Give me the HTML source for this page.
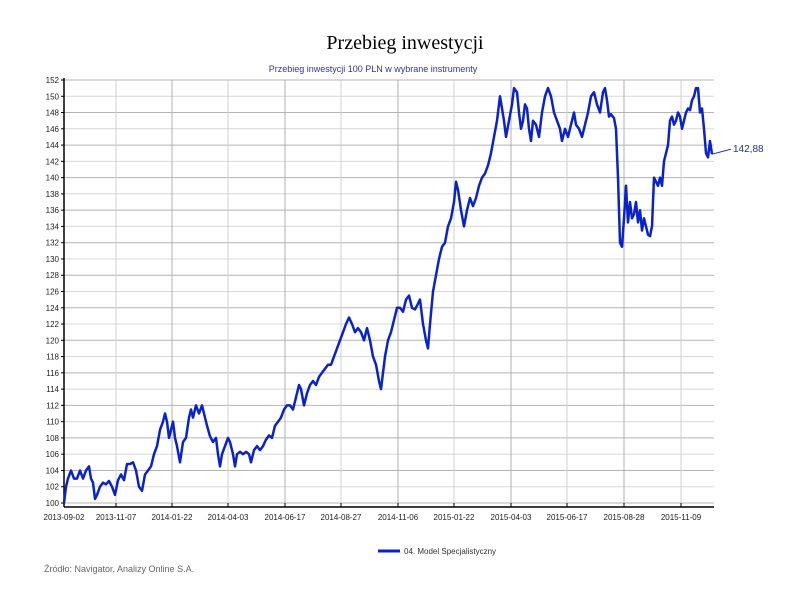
<!DOCTYPE html>
<html><head><meta charset="utf-8"><style>
body{margin:0;background:#fff;width:794px;height:604px;overflow:hidden;font-family:"Liberation Sans",sans-serif}
</style></head><body>
<svg width="794" height="604" id="c">
<text x="405" y="49" text-anchor="middle" font-family="Liberation Serif,serif" font-size="20" fill="#000">Przebieg inwestycji</text>
<text x="373" y="72" text-anchor="middle" font-size="9" fill="#3333aa">Przebieg inwestycji 100 PLN w wybrane instrumenty</text>
<g id="grid"></g><g id="axes"></g><g id="series"></g>
<line x1="378" y1="551" x2="400" y2="551" stroke="#0a22cc" stroke-width="3"/>
<text x="404" y="554" font-size="8" fill="#333">04. Model Specjalistyczny</text>
<text x="44" y="572" font-size="9" fill="#666">Źródło: Navigator, Analizy Online S.A.</text>
</svg>
<script>
const obsIndex=[0,2,4,7,10,13,16,19,22,25,27,29,31,33,36,39,42,45,48,51,54,57,60,63,66,69,72,75,78,81,84,87,90,93,96,99,101,103,105,107,109,111,113,116,119,122,125,127,129,132,135,138,140,143,146,149,152,154,156,158,161,164,166,169,171,173,176,179,182,185,187,190,193,196,199,202,205,208,211,214,217,220,223,226,229,232,235,237,240,243,246,249,252,255,258,261,264,267,270,273,276,279,282,285,288,291,294,297,300,303,306,309,312,315,317,319,321,324,327,330,333,336,339,342,345,348,351,354,356,359,362,364,366,369,372,375,378,381,384,387,390,392,394,397,400,403,406,409,412,415,418,421,424,427,430,433,436,438,440,442,445,448,450,453,455,457,459,461,463,465,467,469,472,475,478,481,484,487,490,493,496,498,501,504,507,510,512,515,518,521,524,527,530,533,536,539,541,543,545,547,550,552,554,556,558,560,562,564,566,568,570,572,574,576,578,580,582,584,586,588,590,592,594,596,598,600,602,604,606,608,610,612,614,616,618,620,622,624,626,628,630,632,634,636,638,640,642,644,646,648];
const values=[100,102,103,104,103,103,104,103,104,104.5,103,102.5,100.5,101,102,102.5,102.3,102.7,102,101,102.8,103.5,102.8,104.8,104.8,105,104,102,101.5,103.5,104,104.5,106,107,109,110,111,110,108,109,110,108,107,105,107.5,108,110.5,111.5,110.5,112,111,112,111,109.5,108.2,107.5,108,106,104.5,106,107,108,107.5,106,104.5,106,106.3,106,106.3,106,105,106.5,107,106.5,107,107.8,108.3,108,109.5,110,110.5,111.5,112,112,111.5,113,114.5,114,112,113.5,114.5,115,114.5,115.5,116,116.5,117,117,118,119,120,121,122,122.8,122,121,121.5,121,120,121.5,120,118,117,115,114,116,118,120,121,122.5,124,124,123.5,125,125.5,124,123.8,124.5,125,122,120,119,122,126,128,130,131.5,132,134,135,137,139.5,138.5,136,134,136,137.5,136.5,137.5,139,140,140.5,141.5,143,145,147,150,148.5,147,145,147,149,151,150.5,148,146,147,149,148.5,146,144.5,147,146.5,145,148,150,151,150,148,147,146,144.5,146,145,146.5,148,146.5,146,145,146.5,148,150,150.5,149,148,150.5,151,149.5,147.5,147.8,147.3,146,140,132,131.5,135,139,134.5,137,135,135.5,137,134.5,136,133.5,135,134,133,132.8,134,140,139.5,139,140,139,142,143,144,147,147.5,146.5,147,148,147.5,146,147,148,148.5,148.3,149.5,150,151,151,148,148.5,146,143,142.5,144.5,142.88];
const yTicks=[100,102,104,106,108,110,112,114,116,118,120,122,124,126,128,130,132,134,136,138,140,142,144,146,148,150,152];
const xTickIdx=[0,52,108,164,221,277,334,390,447,503,560,617];
const xTickLabels=["2013-09-02","2013-11-07","2014-01-22","2014-04-03","2014-06-17","2014-08-27","2014-11-06","2015-01-22","2015-04-03","2015-06-17","2015-08-28","2015-11-09"];
const lastLabel="142,88";
const L=64,R=714,T=80,B=503,NS="http://www.w3.org/2000/svg";
const xs=i=>L+(i/650)*(R-L), ys=v=>B-(v-100)/52*(B-T);
function mk(t,a,p){const e=document.createElementNS(NS,t);for(const k in a)e.setAttribute(k,a[k]);p.appendChild(e);return e;}
const g=document.getElementById('grid'),ax=document.getElementById('axes'),s=document.getElementById('series');
yTicks.forEach((v,i)=>{const y=ys(v);
 const l=mk('line',{x1:L,x2:R,y1:y,y2:y,stroke:i%2?'#d8d8d8':'#b4b4b4','stroke-width':1},g);
 
 const t=mk('text',{x:L-5,y:y+3,'text-anchor':'end','font-size':8,fill:'#222'},ax);t.textContent=v;
 
 mk('line',{x1:L-3,x2:L,y1:y,y2:y,stroke:'#000'},ax);
});
xTickIdx.forEach((d,i)=>{const x=xs(d);
 if(i>0){const l=mk('line',{x1:x,x2:x,y1:T,y2:B,stroke:i%2?'#d0d0d0':'#b0b0b0'},g);
 }
 mk('line',{x1:x,x2:x,y1:B,y2:B+4,stroke:'#000'},ax);
 const t=mk('text',{x:x,y:B+17,'text-anchor':'middle','font-size':8,fill:'#222'},ax);t.textContent=xTickLabels[i];
 
});
const ya=mk('line',{x1:L,x2:L,y1:T-2,y2:B+4,stroke:'#000','stroke-width':1.5},ax);

const xa=mk('line',{x1:L,x2:R,y1:B+4,y2:B+4,stroke:'#000','stroke-width':1.5},ax);

const pts=values.map((v,i)=>xs(obsIndex[i]).toFixed(1)+','+ys(v).toFixed(1)).join(' ');
const pl=mk('polyline',{points:pts,fill:'none',stroke:'#0a22cc','stroke-width':2.5,'stroke-linejoin':'round'},s);

const lx=xs(obsIndex[obsIndex.length-1]),ly=ys(values[values.length-1]);
const ll=mk('line',{x1:lx,y1:ly,x2:lx+19,y2:ly-5,stroke:'#0a22cc'},s);

const lt=mk('text',{x:lx+21,y:ly-2,'font-size':10,fill:'#223388'},s);lt.textContent=lastLabel;

</script>
</body></html>
